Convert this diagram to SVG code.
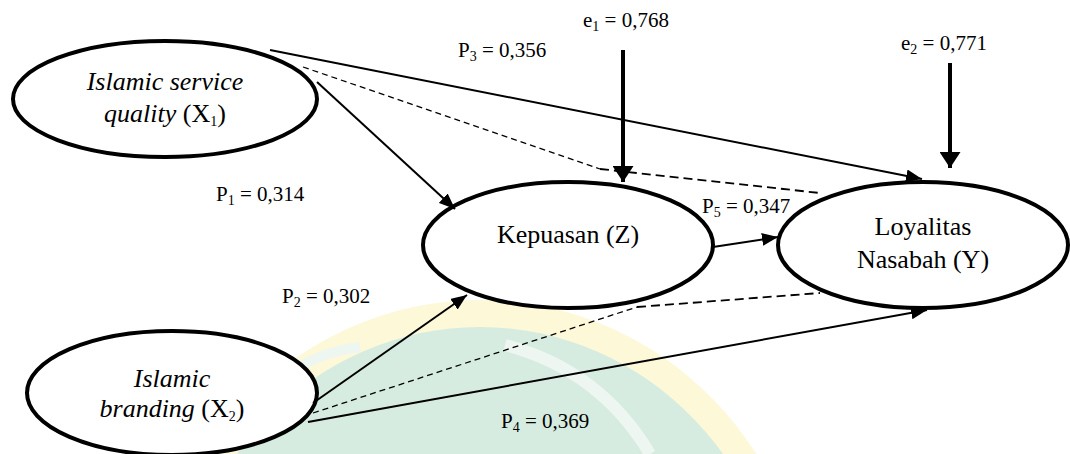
<svg xmlns="http://www.w3.org/2000/svg" width="1070" height="454" viewBox="0 0 1070 454">
<style>
.node{fill:#fff;stroke:#000;stroke-width:4}
.nt{font-family:'Liberation Serif','DejaVu Serif',serif;font-size:26px;fill:#000;text-anchor:middle}
.lb{font-family:'Liberation Serif','DejaVu Serif',serif;font-size:21px;fill:#000}
.sub{font-size:14px}
.it{font-style:italic}
.ln{fill:none;stroke:#000;stroke-width:2}
.thick{fill:none;stroke:#000;stroke-width:4}
.dash{fill:none;stroke:#000;stroke-width:1.3;stroke-dasharray:6 4}
.dash2{fill:none;stroke:#000;stroke-width:1.8;stroke-dasharray:9 5}
</style>
<defs>
<marker id="ah" markerUnits="userSpaceOnUse" markerWidth="17" markerHeight="13" refX="16" refY="6.5" orient="auto"><path d="M0,0 L16,6.5 L0,13 z" fill="#000"/></marker>
<marker id="ahb" markerUnits="userSpaceOnUse" markerWidth="17" markerHeight="21" refX="16" refY="10.5" orient="auto"><path d="M0,0 L16,10.5 L0,21 z" fill="#000"/></marker>
</defs>
<rect width="1070" height="454" fill="#fff"/>
<g id="watermark">
<ellipse cx="480" cy="640" rx="330" ry="340" fill="#fcf8d8"/>
<ellipse cx="480" cy="645" rx="304" ry="318" fill="#d6ece0"/>
<path d="M292,372 Q320,352 360,347" fill="none" stroke="#eef6f1" stroke-width="10"/>
<path d="M505,345 Q600,370 650,454" fill="none" stroke="#eef6f1" stroke-width="12"/>
</g>
<g id="node-x1">
<ellipse class="node" cx="165" cy="99" rx="152" ry="58"/>
<text class="nt" x="165" y="90"><tspan class="it">Islamic service</tspan></text>
<text class="nt" x="165" y="122"><tspan class="it">quality</tspan> (X<tspan class="sub" dy="4">1</tspan><tspan dy="-4">)</tspan></text>
</g>
<g id="node-x2">
<ellipse class="node" cx="172" cy="393" rx="145" ry="62"/>
<text class="nt" x="172" y="387"><tspan class="it">Islamic</tspan></text>
<text class="nt" x="172" y="417"><tspan class="it">branding</tspan> (X<tspan class="sub" dy="4">2</tspan><tspan dy="-4">)</tspan></text>
</g>
<g id="node-z">
<ellipse class="node" cx="568" cy="245" rx="145" ry="63"/>
<text class="nt" x="568" y="243">Kepuasan (Z)</text>
</g>
<g id="node-y">
<ellipse class="node" cx="923" cy="245" rx="145" ry="63"/>
<text class="nt" x="923" y="235">Loyalitas</text>
<text class="nt" x="923" y="268">Nasabah (Y)</text>
</g>
<g id="connectors">
<path class="ln" d="M317,82 L455,209" marker-end="url(#ah)"/>
<path class="ln" d="M270,50 L922,179" marker-end="url(#ah)"/>
<path class="dash" d="M303,67 L600,169"/>
<path class="dash2" d="M600,169 L820,193"/>
<path class="thick" d="M623,50 L623,182" marker-end="url(#ahb)"/>
<path class="thick" d="M950,63 L950,168" marker-end="url(#ahb)"/>
<path class="ln" d="M713,247 L778,237" marker-end="url(#ah)"/>
<path class="ln" d="M313,403 L467,295" marker-end="url(#ah)"/>
<path class="ln" d="M308,422 L927,310" marker-end="url(#ah)"/>
<path class="dash" d="M313,413 L637,307"/>
<path class="dash2" d="M637,307 L820,293"/>
</g>
<g id="labels">
<text class="lb" x="583" y="27">e<tspan class="sub" dy="4">1</tspan><tspan dy="-4"> = 0,768</tspan></text>
<text class="lb" x="901" y="50">e<tspan class="sub" dy="4">2</tspan><tspan dy="-4"> = 0,771</tspan></text>
<text class="lb" x="458" y="57">P<tspan class="sub" dy="4">3</tspan><tspan dy="-4"> = 0,356</tspan></text>
<text class="lb" x="216" y="201">P<tspan class="sub" dy="4">1</tspan><tspan dy="-4"> = 0,314</tspan></text>
<text class="lb" x="702" y="213">P<tspan class="sub" dy="4">5</tspan><tspan dy="-4"> = 0,347</tspan></text>
<text class="lb" x="282" y="303">P<tspan class="sub" dy="4">2</tspan><tspan dy="-4"> = 0,302</tspan></text>
<text class="lb" x="501" y="428">P<tspan class="sub" dy="4">4</tspan><tspan dy="-4"> = 0,369</tspan></text>
</g>
</svg>
